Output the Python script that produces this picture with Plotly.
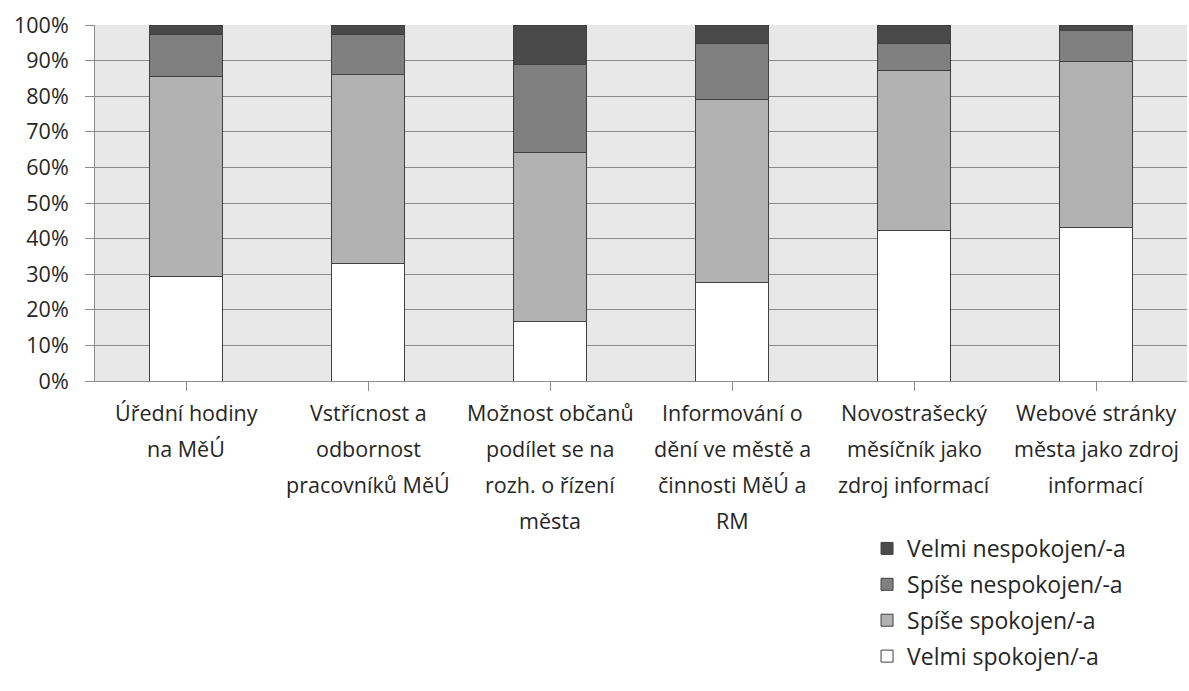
import plotly.graph_objects as go

categories = [
    "Úřední hodiny<br>na MěÚ",
    "Vstřícnost a<br>odbornost<br>pracovníků MěÚ",
    "Možnost občanů<br>podílet se na<br>rozh. o řízení<br>města",
    "Informování o<br>dění ve městě a<br>činnosti MěÚ a<br>RM",
    "Novostrašecký<br>měsíčník jako<br>zdroj informací",
    "Webové stránky<br>města jako zdroj<br>informací",
]
series_names = ["Velmi spokojen/-a", "Spíše spokojen/-a", "Spíše nespokojen/-a", "Velmi nespokojen/-a"]
velmi_spokojen = [29.3, 33.0, 16.8, 27.6, 42.2, 43.0]
spise_spokojen = [56.2, 53.2, 47.4, 51.5, 45.0, 46.8]
spise_nespokojen = [11.8, 11.1, 24.8, 15.7, 7.6, 8.6]
velmi_nespokojen = [2.7, 2.7, 11.0, 5.2, 5.2, 1.6]
colors = ["#ffffff", "#b2b2b2", "#808080", "#4a4a4a"]
y_ticks = [0, 10, 20, 30, 40, 50, 60, 70, 80, 90, 100]

FONT = "Open Sans"
FS = 21.5
FS_LEG = 23
TXT = "#262626"

fig = go.Figure()
values = [velmi_spokojen, spise_spokojen, spise_nespokojen, velmi_nespokojen]
n = len(series_names)
for k, (name, vals, col) in enumerate(zip(series_names, values, colors)):
    fig.add_trace(go.Bar(
        x=list(range(len(categories))), y=vals, name=name, legendgroup=name,
        legendrank=n - k,
        marker=dict(color=col, line=dict(color="#404040", width=1)),
    ))

# category labels drawn line by line for Excel-like line spacing
annotations = []
for i, cat in enumerate(categories):
    for j, line in enumerate(cat.split("<br>")):
        annotations.append(dict(
            x=i, xref="x", y=0, yref="paper", yanchor="middle", xanchor="center",
            yshift=-31 - 36 * j, text=line, showarrow=False,
            font=dict(family=FONT, size=FS, color=TXT),
        ))

fig.update_layout(
    width=1189, height=691,
    barmode="stack", bargap=0.6,
    paper_bgcolor="white", plot_bgcolor="#e8e8e8",
    margin=dict(l=95, r=2, t=25, b=310),
    font=dict(family=FONT, size=FS, color=TXT),
    showlegend=True,
    legend=dict(
        x=0.707, y=-0.41, xanchor="left", yanchor="top",
        traceorder="grouped", orientation="v",
        font=dict(family=FONT, size=FS_LEG, color=TXT),
        tracegroupgap=3, itemwidth=30,
        bgcolor="rgba(0,0,0,0)",
    ),
    annotations=annotations,
)
fig.update_xaxes(
    range=[-0.5, len(categories) - 0.5],
    tickmode="array", tickvals=list(range(len(categories))), ticktext=[""] * len(categories),
    tickson="boundaries", ticks="outside", ticklen=9, tickcolor="#8c8c8c",
    showline=True, linecolor="#8c8c8c", linewidth=1,
    showgrid=False, zeroline=False, automargin=False,
)
fig.update_yaxes(
    range=[0, 100], tickvals=y_ticks, ticktext=[f"{v}%" for v in y_ticks],
    ticks="outside", ticklen=9, tickcolor="#8c8c8c",
    showgrid=True, gridcolor="#8c8c8c", gridwidth=1,
    showline=True, linecolor="#8c8c8c", linewidth=1,
    zeroline=False, ticklabelstandoff=12, automargin=False,
    tickfont=dict(family=FONT, size=FS, color=TXT),
)

fig.write_html("out.html", config={"displayModeBar": False},
               post_script="document.body.style.margin='0';")
